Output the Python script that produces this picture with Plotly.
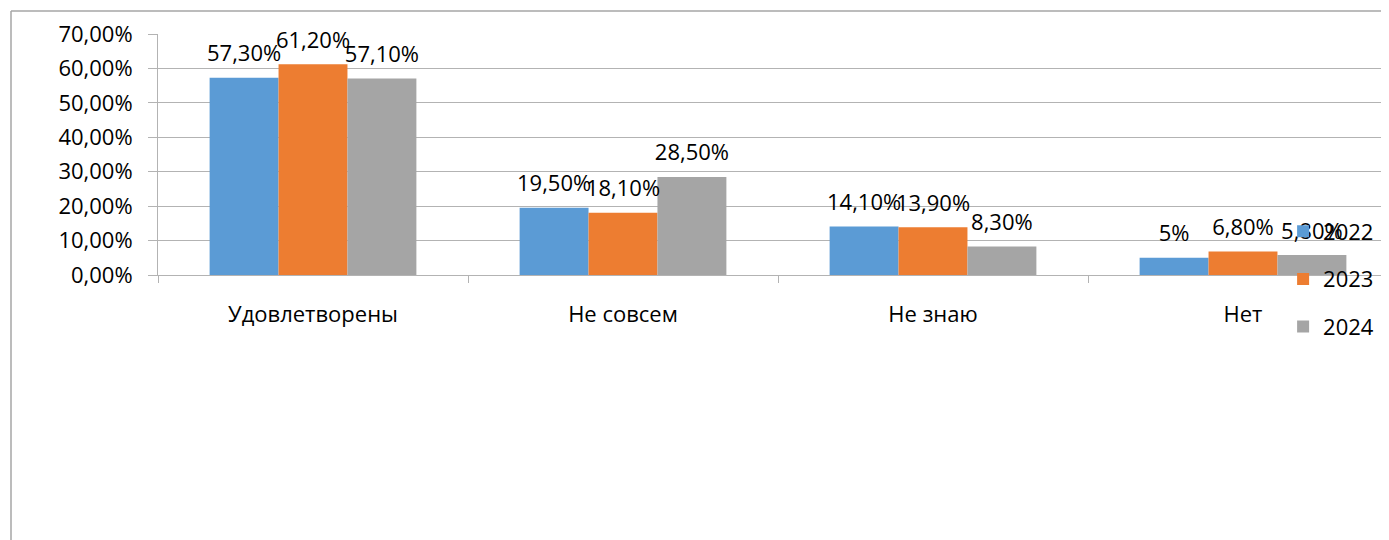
import plotly.graph_objects as go

categories = ["Удовлетворены", "Не совсем", "Не знаю", "Нет"]
years = ["2022", "2023", "2024"]
values_2022 = [57.3, 19.5, 14.1, 5.0]
values_2023 = [61.2, 18.1, 13.9, 6.8]
values_2024 = [57.1, 28.5, 8.3, 5.8]
labels_2022 = ["57,30%", "19,50%", "14,10%", "5%"]
labels_2023 = ["61,20%", "18,10%", "13,90%", "6,80%"]
labels_2024 = ["57,10%", "28,50%", "8,30%", "5,80%"]
colors = ["#5B9BD5", "#ED7D31", "#A5A5A5"]
y_ticks = [0, 10, 20, 30, 40, 50, 60, 70]
y_tick_text = ["0,00%", "10,00%", "20,00%", "30,00%", "40,00%", "50,00%", "60,00%", "70,00%"]

FONT = "Open Sans"
FS = 22
W, H = 1389, 540
# page body adds an 8px offset; margins compensate for it
L, T, B = 150, 26, 273

fig = go.Figure()
for yr, vals, col in zip(years, [values_2022, values_2023, values_2024], colors):
    fig.add_trace(go.Bar(
        name=yr, x=categories, y=vals,
        marker=dict(color=col, line=dict(width=0)),
        legendgroup=yr, offsetgroup=yr, alignmentgroup="a",
    ))
for yr, vals, labs in zip(years, [values_2022, values_2023, values_2024],
                          [labels_2022, labels_2023, labels_2024]):
    fig.add_trace(go.Scatter(
        x=categories, y=vals, text=labs, mode="markers+text",
        textposition="top center", cliponaxis=False,
        marker=dict(size=16, opacity=0),
        textfont=dict(family=FONT, size=FS, color="#000000"),
        offsetgroup=yr, alignmentgroup="a", showlegend=False, hoverinfo="skip",
    ))

plot_w = W - L
cat_w = 310.0
x_hi = -0.5 + plot_w / cat_w

fig.update_layout(
    width=W, height=H,
    margin=dict(l=L, r=0, t=T, b=B, pad=0, autoexpand=False),
    paper_bgcolor="white", plot_bgcolor="white",
    barmode="group", bargap=0.333, bargroupgap=0,
    scattermode="group", scattergap=0.333,
    font=dict(family=FONT, size=FS, color="#000000"),
    showlegend=True,
    legend=dict(xref="container", yref="container", x=0.918, y=0.625,
                xanchor="left", yanchor="top", bgcolor="rgba(0,0,0,0)",
                font=dict(family=FONT, size=FS, color="#000000"),
                tracegroupgap=16, itemwidth=30),
    xaxis=dict(range=[-0.5, x_hi], showgrid=False, showline=True,
               linecolor="#b3b3b3", linewidth=1, ticks="outside",
               tickson="boundaries", ticklen=7, tickcolor="#b3b3b3",
               ticklabelstandoff=20, tickfont=dict(family=FONT, size=FS, color="#000000")),
    yaxis=dict(range=[0, 70], tickvals=y_ticks, ticktext=y_tick_text,
               showgrid=True, gridcolor="#b3b3b3", gridwidth=1,
               showline=True, linecolor="#b3b3b3", linewidth=1,
               ticks="outside", ticklen=9, tickcolor="#b3b3b3",
               ticklabelstandoff=11, zeroline=False,
               tickfont=dict(family=FONT, size=FS, color="#000000")),
)

# outer chart-area border (top and left edges visible)
px_h = H - T - B
bx = (3 - L) / plot_w
by = (H - B - 3) / px_h
fig.add_shape(type="line", xref="paper", yref="paper",
              x0=bx, x1=1.2, y0=by, y1=by,
              line=dict(color="#a6a6a6", width=1.5))
fig.add_shape(type="line", xref="paper", yref="paper",
              x0=bx, x1=bx, y0=by, y1=-2,
              line=dict(color="#a6a6a6", width=1.5))

fig.write_html("out.html")
